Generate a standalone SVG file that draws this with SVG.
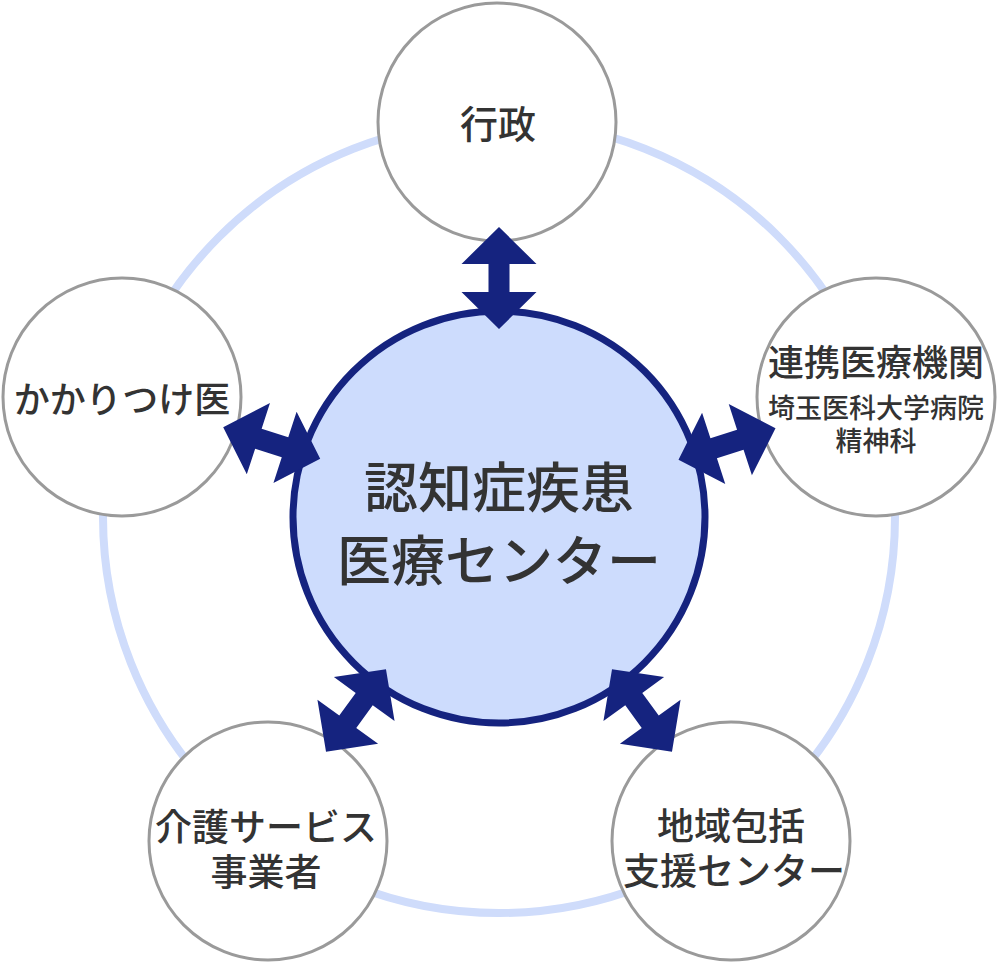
<svg xmlns="http://www.w3.org/2000/svg" width="1000" height="964" viewBox="0 0 1000 964">
<style>
.t{font-family:"Noto Sans CJK JP","Noto Sans",sans-serif;fill:#333;text-anchor:middle;dominant-baseline:central;font-weight:500}
.o{fill:#fff;stroke:#9a9a9a;stroke-width:3}
.a{fill:#15237f}
</style>
<defs>
<path id="arr" d="M0,-51 L37.5,-14 L10.5,-14 L10.5,14 L37.5,14 L0,51 L-37.5,14 L-10.5,14 L-10.5,-14 L-37.5,-14 Z"/>
</defs>
<rect width="1000" height="964" fill="#fff"/>
<circle id="ring" cx="499" cy="517" r="396" fill="none" stroke="#cfdcfb" stroke-width="8"/>
<g id="center">
<circle cx="499" cy="517" r="206" fill="#cddcfd" stroke="#15237f" stroke-width="7"/>
<text class="t" x="499" y="484" font-size="54">認知症疾患</text>
<text class="t" x="499" y="557" font-size="54">医療センター</text>
</g>
<g id="gyosei">
<circle class="o" cx="497" cy="122" r="119"/>
<text class="t" x="498" y="121" font-size="38">行政</text>
</g>
<g id="kakaritsuke">
<circle class="o" cx="122" cy="397" r="119"/>
<text class="t" x="122" y="397" font-size="36">かかりつけ医</text>
</g>
<g id="renkei">
<circle class="o" cx="876" cy="397" r="119"/>
<text class="t" x="876" y="360" font-size="36">連携医療機関</text>
<text class="t" x="876" y="406" font-size="27">埼玉医科大学病院</text>
<text class="t" x="876" y="439" font-size="27">精神科</text>
</g>
<g id="kaigo">
<circle class="o" cx="268" cy="841" r="119"/>
<text class="t" x="266" y="825" font-size="37">介護サービス</text>
<text class="t" x="266" y="870" font-size="37">事業者</text>
</g>
<g id="chiiki">
<circle class="o" cx="731" cy="841" r="119"/>
<text class="t" x="731" y="824" font-size="37">地域包括</text>
<text class="t" x="734" y="869" font-size="37">支援センター</text>
</g>
<g id="connectors" class="a">
<use href="#arr" transform="translate(499,278)"/>
<use href="#arr" transform="translate(271.7,443) rotate(-72)"/>
<use href="#arr" transform="translate(727,444) rotate(72)"/>
<use href="#arr" transform="translate(356,710.4) rotate(36)"/>
<use href="#arr" transform="translate(642,710.4) rotate(-36)"/>
</g>
</svg>
